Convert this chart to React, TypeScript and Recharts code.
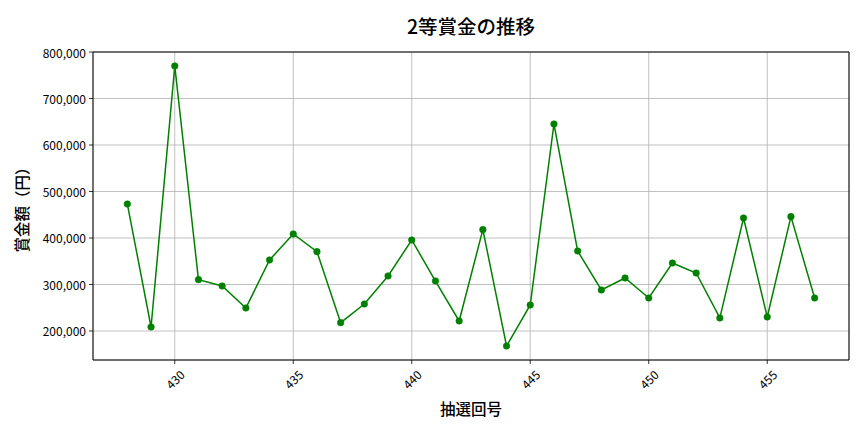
import React from 'react';
import { LineChart, Line, XAxis, YAxis, CartesianGrid, ReferenceLine } from 'recharts';

const draws = [428, 429, 430, 431, 432, 433, 434, 435, 436, 437, 438, 439, 440, 441, 442, 443, 444, 445, 446, 447, 448, 449, 450, 451, 452, 453, 454, 455, 456, 457];
const prizes = [473000, 208600, 770000, 310400, 296800, 249500, 352700, 408600, 370600, 217900, 258100, 318300, 395700, 307500, 221500, 417900, 167700, 255900, 645200, 372000, 288200, 314000, 271000, 346200, 324700, 228000, 443000, 230100, 445900, 271000];
const xTicks = [430, 435, 440, 445, 450, 455];
const yTicks = [200000, 300000, 400000, 500000, 600000, 700000, 800000];
const xDomain = [426.55, 458.45];
const yDomain = [137600, 800000];

const data = draws.map((d, i) => ({ draw: d, prize: prizes[i] }));

const FONT = '"Noto Sans CJK JP", "Noto Sans", sans-serif';

const XTick = (props: any) => {
  const { x, y, payload } = props;
  return (
    <g transform={`translate(${x},${y + 13})`}>
      <text
        x={0}
        y={0}
        textAnchor="middle"
        dominantBaseline="central"
        transform="rotate(-45)"
        fontSize={12}
        fontFamily={FONT}
        fill="#000"
      >
        {payload.value}
      </text>
    </g>
  );
};

const YTick = (props: any) => {
  const { x, y, payload } = props;
  return (
    <text x={x} y={y} textAnchor="end" dominantBaseline="central" fontSize={12} fontFamily={FONT} fill="#000">
      {Number(payload.value).toLocaleString('en-US')}
    </text>
  );
};

export default function App() {
  return (
    <div style={{ position: 'absolute', left: 0, top: 0, width: 864, height: 432, background: '#fff' }}>
      <svg width={864} height={432} style={{ position: 'absolute', left: 0, top: 0, pointerEvents: 'none' }}>
        <text x={471} y={25} textAnchor="middle" dominantBaseline="central" fontSize={19.5} fontWeight={500} fontFamily={FONT} fill="#000">
          2等賞金の推移
        </text>
        <text x={471} y={408} textAnchor="middle" dominantBaseline="central" fontSize={15.5} fontWeight={500} fontFamily={FONT} fill="#000">
          抽選回号
        </text>
        <text
          x={21}
          y={206}
          textAnchor="middle"
          dominantBaseline="central"
          fontSize={15.5}
          fontWeight={500}
          fontFamily={FONT}
          fill="#000"
          transform="rotate(-90, 21, 206)"
        >
          賞金額（円）
        </text>
      </svg>
      <div style={{ position: 'absolute', left: 0, top: 0 }}>
        <LineChart width={864} height={432} data={data} margin={{ top: 52, right: 15, bottom: 0, left: 0 }}>
          <CartesianGrid stroke="#b0b0b0" strokeWidth={0.8} />
          <XAxis
            dataKey="draw"
            type="number"
            domain={xDomain}
            ticks={xTicks}
            tick={<XTick />}
            tickSize={4}
            tickLine={{ stroke: '#000', strokeWidth: 0.8 }}
            axisLine={{ stroke: '#000', strokeWidth: 1 }}
            height={72}
            interval={0}
            allowDataOverflow
          />
          <YAxis
            type="number"
            domain={yDomain}
            ticks={yTicks}
            tick={<YTick />}
            tickSize={4}
            tickMargin={3}
            tickLine={{ stroke: '#000', strokeWidth: 0.8 }}
            axisLine={{ stroke: '#000', strokeWidth: 1 }}
            width={93}
            interval={0}
            allowDataOverflow
          />
          <ReferenceLine y={yDomain[1]} stroke="#000" strokeWidth={1} ifOverflow="extendDomain" />
          <ReferenceLine x={xDomain[1]} stroke="#000" strokeWidth={1} ifOverflow="extendDomain" />
          <Line
            type="linear"
            dataKey="prize"
            stroke="#008000"
            strokeWidth={1.5}
            dot={{ r: 3.3, fill: '#008000', stroke: '#008000', strokeWidth: 0.5 }}
            isAnimationActive={false}
          />
        </LineChart>
      </div>
    </div>
  );
}
